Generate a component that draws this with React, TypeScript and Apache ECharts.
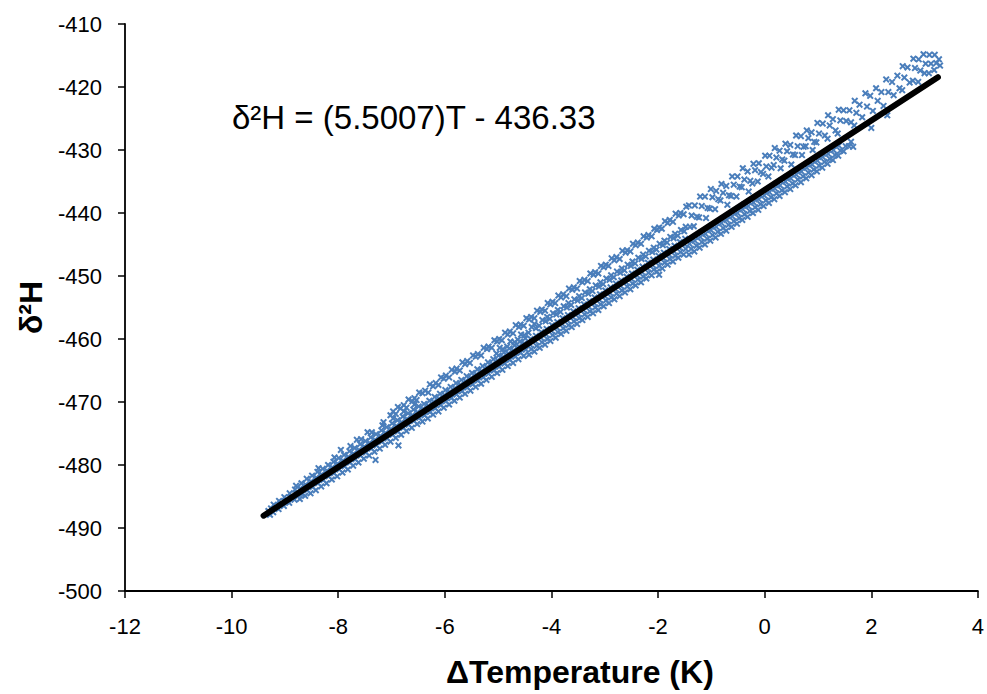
import React, { useEffect, useRef } from "react";
import * as echarts from "echarts";

// ΔTemperature (K), δ2H pairs
const mainBand: number[][] = [
  [-9.28,-487.9],[-9.31,-487.3],[-9.26,-486.9],
  [-9.22,-487.5],[-9.18,-486.8],[-9.21,-486.3],
  [-9.12,-487.0],[-9.08,-486.2],[-9.11,-485.7],
  [-9.02,-486.5],[-8.98,-485.7],[-9.01,-485.1],
  [-8.92,-486.0],[-8.88,-485.1],[-8.91,-484.5],
  [-8.82,-485.5],[-8.78,-484.6],[-8.81,-483.9],[-8.79,-483.3],
  [-8.72,-485.4],[-8.68,-484.6],[-8.71,-483.7],[-8.69,-482.9],
  [-8.62,-484.9],[-8.58,-484.0],[-8.61,-483.1],[-8.59,-482.2],
  [-8.52,-484.5],[-8.48,-483.5],[-8.51,-482.6],[-8.49,-481.7],
  [-8.42,-484.0],[-8.38,-482.9],[-8.41,-482.0],[-8.39,-481.1],[-8.37,-480.5],
  [-8.32,-483.4],[-8.28,-482.4],[-8.31,-481.5],[-8.29,-480.6],
  [-8.22,-482.9],[-8.18,-481.8],[-8.21,-480.9],[-8.19,-480.0],
  [-8.12,-482.3],[-8.08,-481.3],[-8.11,-480.4],[-8.09,-479.5],[-8.07,-478.8],
  [-8.02,-481.8],[-7.98,-480.7],[-8.01,-479.8],[-7.99,-478.9],[-7.95,-477.6],
  [-7.92,-481.2],[-7.88,-480.2],[-7.91,-479.3],[-7.89,-478.4],
  [-7.82,-480.7],[-7.78,-479.6],[-7.81,-478.7],[-7.79,-477.8],[-7.77,-477.0],
  [-7.72,-480.1],[-7.68,-479.1],[-7.71,-478.2],[-7.69,-477.3],[-7.65,-476.0],
  [-7.62,-479.6],[-7.58,-478.5],[-7.61,-477.6],[-7.59,-476.7],[-7.57,-475.9],
  [-7.52,-479.0],[-7.48,-478.0],[-7.51,-477.1],[-7.49,-476.2],[-7.45,-474.8],
  [-7.42,-478.5],[-7.38,-477.4],[-7.41,-476.5],[-7.39,-475.6],[-7.37,-474.8],
  [-7.32,-477.9],[-7.28,-476.9],[-7.31,-476.0],[-7.29,-475.1],[-7.30,-479.2],
  [-7.22,-477.4],[-7.18,-476.3],[-7.21,-475.4],[-7.19,-474.5],[-7.17,-473.7],[-7.15,-473.2],
  [-7.12,-476.8],[-7.08,-475.8],[-7.11,-474.9],[-7.09,-474.0],
  [-7.02,-476.3],[-6.98,-475.2],[-7.01,-474.3],[-6.99,-473.4],[-6.97,-472.6],
  [-6.92,-475.7],[-6.88,-474.7],[-6.91,-473.8],[-6.89,-472.9],[-6.87,-476.9],
  [-6.82,-475.2],[-6.78,-474.1],[-6.81,-473.2],[-6.79,-472.3],[-6.77,-471.5],
  [-6.72,-474.6],[-6.68,-473.6],[-6.71,-472.7],[-6.69,-471.8],
  [-6.62,-474.1],[-6.58,-473.0],[-6.61,-472.1],[-6.59,-471.2],[-6.57,-470.4],
  [-6.52,-473.5],[-6.48,-472.5],[-6.51,-471.6],[-6.49,-470.7],
  [-6.42,-473.1],[-6.38,-472.1],[-6.41,-471.1],[-6.39,-470.3],
  [-6.32,-472.6],[-6.28,-471.6],[-6.31,-470.6],[-6.29,-469.8],
  [-6.22,-472.0],[-6.18,-471.0],[-6.21,-470.0],[-6.19,-469.2],
  [-6.12,-471.5],[-6.08,-470.5],[-6.11,-469.5],[-6.09,-468.7],
  [-6.02,-470.9],[-5.98,-469.9],[-6.01,-468.9],[-5.99,-468.1],
  [-5.92,-470.4],[-5.88,-469.4],[-5.91,-468.4],[-5.89,-467.6],
  [-5.82,-469.8],[-5.78,-468.8],[-5.81,-467.8],[-5.79,-467.0],
  [-5.72,-469.3],[-5.68,-468.3],[-5.71,-467.3],[-5.69,-466.5],
  [-5.62,-468.7],[-5.58,-467.7],[-5.61,-466.7],[-5.59,-465.9],
  [-5.52,-468.2],[-5.48,-467.2],[-5.51,-466.2],[-5.49,-465.4],
  [-5.42,-467.6],[-5.38,-466.6],[-5.41,-465.6],[-5.39,-464.8],
  [-5.32,-467.1],[-5.28,-466.1],[-5.31,-465.1],[-5.29,-464.3],
  [-5.22,-466.5],[-5.18,-465.5],[-5.21,-464.5],[-5.19,-463.7],
  [-5.12,-466.0],[-5.08,-465.0],[-5.11,-464.0],[-5.09,-463.2],
  [-5.02,-465.4],[-4.98,-464.4],[-5.01,-463.4],[-4.99,-462.6],
  [-4.92,-464.9],[-4.88,-463.9],[-4.91,-462.9],[-4.89,-462.1],
  [-4.82,-464.3],[-4.78,-463.3],[-4.81,-462.3],[-4.79,-461.5],
  [-4.72,-463.8],[-4.68,-462.8],[-4.71,-461.8],[-4.69,-461.0],
  [-4.62,-463.2],[-4.58,-462.2],[-4.61,-461.2],[-4.59,-460.4],
  [-4.52,-462.7],[-4.48,-461.7],[-4.51,-460.7],[-4.49,-459.9],
  [-4.42,-462.5],[-4.38,-461.6],[-4.41,-460.8],[-4.39,-460.0],
  [-4.32,-462.0],[-4.28,-461.1],[-4.31,-460.3],[-4.29,-459.5],
  [-4.22,-461.4],[-4.18,-460.5],[-4.21,-459.7],[-4.19,-458.9],
  [-4.12,-460.9],[-4.08,-460.0],[-4.11,-459.2],[-4.09,-458.4],
  [-4.02,-460.3],[-3.98,-459.4],[-4.01,-458.6],[-3.99,-457.8],
  [-3.92,-459.8],[-3.88,-458.9],[-3.91,-458.1],[-3.89,-457.3],
  [-3.82,-459.2],[-3.78,-458.3],[-3.81,-457.5],[-3.79,-456.7],
  [-3.72,-458.7],[-3.68,-457.8],[-3.71,-457.0],[-3.69,-456.2],
  [-3.62,-458.1],[-3.58,-457.2],[-3.61,-456.4],[-3.59,-455.6],
  [-3.52,-457.6],[-3.48,-456.7],[-3.51,-455.9],[-3.49,-455.1],
  [-3.42,-457.0],[-3.38,-456.1],[-3.41,-455.3],[-3.39,-454.5],
  [-3.32,-456.5],[-3.28,-455.6],[-3.31,-454.8],[-3.29,-454.0],
  [-3.22,-455.9],[-3.18,-455.0],[-3.21,-454.2],[-3.19,-453.4],
  [-3.12,-455.4],[-3.08,-454.5],[-3.11,-453.7],[-3.09,-452.9],
  [-3.02,-454.8],[-2.98,-453.9],[-3.01,-453.1],[-2.99,-452.3],
  [-2.92,-454.3],[-2.88,-453.4],[-2.91,-452.6],[-2.89,-451.8],
  [-2.82,-453.7],[-2.78,-452.8],[-2.81,-452.0],[-2.79,-451.2],
  [-2.72,-453.2],[-2.68,-452.3],[-2.71,-451.5],[-2.69,-450.7],
  [-2.62,-452.6],[-2.58,-451.7],[-2.61,-450.9],[-2.59,-450.1],
  [-2.52,-452.1],[-2.48,-451.2],[-2.51,-450.4],[-2.49,-449.6],
  [-2.42,-451.5],[-2.38,-450.6],[-2.41,-449.8],[-2.39,-449.0],
  [-2.32,-451.0],[-2.28,-450.1],[-2.31,-449.3],[-2.29,-448.5],
  [-2.22,-450.4],[-2.18,-449.5],[-2.21,-448.7],[-2.19,-447.9],
  [-2.12,-449.9],[-2.08,-449.0],[-2.11,-448.2],[-2.09,-447.4],
  [-2.02,-449.3],[-1.98,-448.4],[-2.01,-447.6],[-1.99,-446.8],[-1.98,-449.8],
  [-1.92,-448.8],[-1.88,-447.9],[-1.91,-447.1],[-1.89,-446.3],
  [-1.82,-448.2],[-1.78,-447.3],[-1.81,-446.5],[-1.79,-445.7],
  [-1.72,-447.7],[-1.68,-446.8],[-1.71,-446.0],[-1.69,-445.2],
  [-1.62,-447.1],[-1.58,-446.2],[-1.61,-445.4],[-1.59,-444.6],
  [-1.52,-446.6],[-1.48,-445.7],[-1.51,-444.9],[-1.49,-444.1],
  [-1.42,-446.6],[-1.38,-445.7],[-1.41,-444.9],[-1.39,-444.2],
  [-1.32,-446.1],[-1.28,-445.2],[-1.31,-444.4],[-1.29,-443.7],
  [-1.22,-445.5],[-1.18,-444.6],[-1.21,-443.8],[-1.19,-443.1],
  [-1.12,-445.0],[-1.08,-444.1],[-1.11,-443.3],[-1.09,-442.6],
  [-1.02,-444.4],[-0.98,-443.5],[-1.01,-442.7],[-0.99,-442.0],
  [-0.92,-443.9],[-0.88,-443.0],[-0.91,-442.2],[-0.89,-441.5],
  [-0.82,-443.3],[-0.78,-442.4],[-0.81,-441.6],[-0.79,-440.9],
  [-0.72,-442.8],[-0.68,-441.9],[-0.71,-441.1],[-0.69,-440.4],
  [-0.62,-442.2],[-0.58,-441.3],[-0.61,-440.5],[-0.59,-439.8],
  [-0.52,-441.7],[-0.48,-440.8],[-0.51,-440.0],[-0.49,-439.3],
  [-0.42,-441.1],[-0.38,-440.2],[-0.41,-439.4],[-0.39,-438.7],
  [-0.32,-440.6],[-0.28,-439.7],[-0.31,-438.9],[-0.29,-438.2],
  [-0.22,-440.0],[-0.18,-439.1],[-0.21,-438.3],[-0.19,-437.6],
  [-0.12,-439.5],[-0.08,-438.6],[-0.11,-437.8],[-0.09,-437.1],
  [-0.02,-438.9],[0.02,-438.0],[-0.01,-437.2],[0.01,-436.5],
  [0.08,-438.4],[0.12,-437.5],[0.09,-436.7],[0.11,-436.0],
  [0.18,-437.8],[0.22,-436.9],[0.19,-436.1],[0.21,-435.4],
  [0.28,-437.3],[0.32,-436.4],[0.29,-435.6],[0.31,-434.9],
  [0.38,-436.7],[0.42,-435.8],[0.39,-435.0],[0.41,-434.3],
  [0.48,-436.2],[0.52,-435.3],[0.49,-434.5],[0.51,-433.8],
  [0.58,-435.6],[0.62,-434.7],[0.59,-433.9],[0.61,-433.2],
  [0.68,-435.1],[0.72,-434.2],[0.69,-433.4],[0.71,-432.7],
  [0.78,-434.5],[0.82,-433.6],[0.79,-432.8],[0.81,-432.1],
  [0.88,-434.0],[0.92,-433.1],[0.89,-432.3],[0.91,-431.6],
  [0.98,-433.4],[1.02,-432.5],[0.99,-431.7],[1.01,-431.0],
  [1.08,-432.8],[1.12,-431.9],[1.09,-431.1],
  [1.18,-432.2],[1.22,-431.4],[1.19,-430.6],
  [1.28,-431.6],[1.32,-430.8],[1.29,-430.0],
  [1.38,-430.9],[1.42,-430.1],[1.39,-429.3],
  [1.48,-430.2],[1.52,-429.4],
  [1.58,-429.4],[1.62,-428.7],[1.66,-429.5],
];

const middleBand: number[][] = [
  [-5.03,-462.3],[-4.97,-461.4],[-4.91,-461.6],
  [-4.83,-461.2],[-4.77,-460.4],[-4.69,-460.5],
  [-4.63,-460.1],[-4.57,-459.3],[-4.51,-459.4],
  [-4.43,-459.0],[-4.37,-458.1],[-4.29,-458.3],[-4.32,-457.6],
  [-4.23,-457.9],[-4.17,-457.0],[-4.11,-457.2],[-4.08,-456.5],
  [-4.03,-456.8],[-3.97,-455.9],[-3.91,-456.1],[-3.88,-455.4],
  [-3.83,-455.7],[-3.77,-454.8],[-3.71,-455.0],[-3.68,-454.3],
  [-3.63,-454.6],[-3.57,-453.7],[-3.51,-453.9],[-3.48,-453.2],
  [-3.43,-453.5],[-3.37,-452.6],[-3.31,-452.8],[-3.28,-452.1],
  [-3.23,-452.4],[-3.17,-451.5],[-3.11,-451.7],[-3.08,-451.0],
  [-3.03,-451.3],[-2.97,-450.4],[-2.91,-450.6],[-2.88,-449.9],
  [-2.83,-450.2],[-2.77,-449.3],[-2.71,-449.5],[-2.68,-448.8],
  [-2.63,-449.1],[-2.57,-448.2],[-2.51,-448.4],[-2.48,-447.7],
  [-2.43,-448.0],[-2.37,-447.1],[-2.31,-447.3],[-2.28,-446.6],
  [-2.23,-446.9],[-2.17,-446.0],[-2.11,-446.2],[-2.08,-445.5],
  [-2.03,-445.8],[-1.97,-444.9],[-1.91,-445.1],[-1.88,-444.4],
  [-1.83,-444.7],[-1.77,-443.8],[-1.71,-444.0],[-1.68,-443.3],
  [-1.63,-443.6],[-1.57,-442.7],[-1.51,-442.9],[-1.48,-442.2],
];

const upperBand: number[][] = [
  [-7.02,-472.1],[-6.97,-471.5],[-6.92,-471.9],[-6.88,-470.8],
  [-6.83,-471.0],[-6.77,-470.5],[-6.72,-470.9],[-6.68,-469.6],
  [-6.61,-469.9],[-6.57,-469.4],[-6.53,-469.7],[-6.48,-468.5],
  [-6.42,-468.6],[-6.37,-468.2],[-6.31,-468.5],[-6.28,-467.2],
  [-6.22,-467.5],[-6.17,-467.0],[-6.12,-467.3],[-6.07,-466.1],
  [-6.02,-466.3],[-5.98,-465.8],[-5.92,-466.1],[-5.87,-464.9],
  [-5.81,-465.2],[-5.78,-464.7],[-5.72,-465.0],[-5.67,-463.7],
  [-5.62,-464.0],[-5.58,-463.5],[-5.53,-463.8],[-5.47,-462.6],
  [-5.42,-462.8],[-5.38,-462.4],[-5.32,-462.6],[-5.27,-461.4],
  [-5.21,-461.6],[-5.18,-461.2],[-5.12,-461.4],[-5.07,-460.2],
  [-5.02,-460.4],[-4.98,-460.0],[-4.93,-460.2],[-4.87,-459.0],
  [-4.82,-459.3],[-4.78,-458.8],[-4.72,-459.1],[-4.67,-457.8],
  [-4.61,-458.1],[-4.58,-457.7],[-4.52,-457.9],[-4.47,-456.7],
  [-4.42,-456.9],[-4.38,-456.5],[-4.32,-456.7],[-4.27,-455.5],
  [-4.21,-455.7],[-4.18,-455.3],[-4.12,-455.5],[-4.07,-454.3],
  [-4.02,-454.5],[-3.98,-454.1],[-3.93,-454.3],[-3.87,-453.1],
  [-3.82,-453.4],[-3.78,-452.9],[-3.72,-453.2],[-3.67,-452.0],
  [-3.61,-452.2],[-3.58,-451.8],[-3.52,-452.0],[-3.47,-450.8],
  [-3.42,-451.0],[-3.38,-450.6],[-3.32,-450.8],[-3.27,-449.6],
  [-3.21,-449.8],[-3.18,-449.4],[-3.12,-449.6],[-3.07,-448.4],
  [-3.02,-448.6],[-2.98,-448.2],[-2.93,-448.4],[-2.87,-447.2],
  [-2.82,-447.5],[-2.78,-447.0],[-2.72,-447.3],[-2.67,-446.0],
  [-2.61,-446.3],[-2.58,-445.9],[-2.52,-446.1],[-2.47,-444.9],
  [-2.42,-445.1],[-2.38,-444.7],[-2.32,-444.9],[-2.27,-443.7],
  [-2.21,-443.9],[-2.18,-443.5],[-2.12,-443.7],[-2.07,-442.5],
  [-2.02,-442.7],[-1.98,-442.3],[-1.93,-442.5],[-1.87,-441.3],
  [-1.82,-441.6],[-1.78,-441.1],[-1.72,-441.4],[-1.67,-440.1],
  [-1.61,-440.4],[-1.58,-440.0],[-1.52,-440.2],[-1.47,-439.0],
];

const upperCloud: number[][] = [
  [-1.42,-438.8],[-1.37,-440.4],[-1.40,-442.2],
  [-1.31,-438.8],[-1.27,-440.6],[-1.33,-442.1],
  [-1.21,-437.4],[-1.18,-438.9],[-1.23,-440.7],
  [-1.12,-437.4],[-1.07,-439.2],[-1.10,-440.8],
  [-1.01,-436.2],[-0.98,-437.5],[-1.03,-439.3],
  [-0.91,-436.5],[-0.87,-437.8],[-0.93,-439.4],
  [-0.81,-435.4],[-0.78,-436.8],[-0.83,-438.0],
  [-0.72,-435.7],[-0.67,-437.2],[-0.70,-438.7],
  [-0.61,-434.2],[-0.58,-435.5],[-0.63,-437.3],
  [-0.51,-434.2],[-0.47,-435.8],[-0.53,-437.4],
  [-0.41,-432.9],[-0.38,-434.7],[-0.43,-435.9],
  [-0.32,-433.4],[-0.27,-434.9],[-0.30,-436.6],
  [-0.21,-432.2],[-0.18,-433.2],[-0.23,-435.3],
  [-0.11,-432.1],[-0.07,-433.5],[-0.13,-435.0],
  [0.01,-430.9],[0.03,-432.6],[-0.03,-433.8],
  [0.09,-430.9],[0.13,-432.8],[0.07,-434.2],
  [0.19,-429.7],[0.22,-431.2],[0.17,-432.4],
  [0.28,-430.1],[0.33,-431.5],[0.30,-432.9],
  [0.39,-429.0],[0.42,-430.2],[0.37,-431.7],
  [0.48,-429.2],[0.53,-430.7],[0.50,-432.3],
  [0.59,-427.7],[0.62,-429.4],[0.57,-430.8],
  [0.68,-427.8],[0.73,-429.5],[0.70,-430.8],
  [0.79,-426.9],[0.82,-428.1],[0.77,-429.4],
  [0.88,-427.2],[0.93,-428.7],[0.90,-430.0],
  [0.99,-425.7],[1.02,-427.4],[0.97,-428.8],
  [1.09,-425.8],[1.13,-427.7],
  [1.19,-424.5],[1.22,-426.1],[1.18,-428.2],
  [1.28,-425.1],[1.33,-426.9],
  [1.39,-423.6],[1.42,-425.3],[1.37,-427.4],
  [1.48,-423.7],[1.53,-425.4],
  [1.59,-423.7],[1.62,-425.6],
  [1.69,-422.2],[1.72,-424.1],[1.68,-426.1],
  [1.78,-422.8],[1.83,-424.8],
  [1.89,-421.0],[1.92,-423.1],
  [1.98,-421.4],[2.03,-423.8],[2.00,-426.5],
  [2.09,-420.2],[2.12,-422.2],
  [2.19,-420.8],[2.23,-423.0],
  [2.28,-418.8],[2.32,-420.8],[2.30,-424.5],
  [2.39,-419.2],[2.42,-421.3],
  [2.49,-418.2],[2.53,-420.2],
  [2.59,-416.7],[2.62,-418.5],[2.58,-420.5],
  [2.68,-416.9],[2.72,-419.3],
  [2.79,-415.5],[2.82,-417.0],[2.78,-419.0],
  [2.89,-415.6],[2.92,-417.4],[2.88,-419.2],
  [2.98,-414.8],[3.02,-416.3],[3.00,-417.8],
  [3.09,-414.9],[3.12,-416.3],[3.08,-417.8],
  [3.19,-414.9],[3.22,-416.2],[3.18,-417.3],
  [3.27,-415.6],[3.29,-416.6],
];

// linear fit drawn across the data range
const trendLine: number[][] = [[-9.4, -488.04], [3.25, -418.45]];
const equationText = "δ²H = (5.5007)T - 436.33";
const xAxisTitle = "ΔTemperature (K)";
const yAxisTitle = "δ²H";

const FONT = '"Liberation Sans", Arial, sans-serif';
const crossSymbol =
  "path://M0,2L2,0L5,3L8,0L10,2L7,5L10,8L8,10L5,7L2,10L0,8L3,5Z";

export default function App() {
  const ref = useRef<HTMLDivElement>(null);

  useEffect(() => {
    if (!ref.current) return;
    const chart = echarts.init(ref.current, null, { renderer: "svg" });
    const scatterStyle = {
      type: "scatter" as const,
      symbol: crossSymbol,
      symbolSize: 7,
      itemStyle: { color: "#4A7EBB", opacity: 1 },
      silent: true,
      z: 2,
    };
    chart.setOption({
      animation: false,
      backgroundColor: "#ffffff",
      grid: { left: 125, right: 5, top: 24, bottom: 103, containLabel: false },
      xAxis: {
        type: "value",
        min: -12,
        max: 4,
        interval: 2,
        axisLine: { show: true, onZero: false, lineStyle: { color: "#000", width: 1.8 } },
        axisTick: { show: true, length: 7, lineStyle: { color: "#000", width: 1.5 } },
        splitLine: { show: false },
        axisLabel: { color: "#000", fontSize: 22, fontFamily: FONT, margin: 24 },
      },
      yAxis: {
        type: "value",
        min: -500,
        max: -410,
        interval: 10,
        axisLine: { show: true, onZero: false, lineStyle: { color: "#000", width: 1.8 } },
        axisTick: { show: true, length: 7, lineStyle: { color: "#000", width: 1.5 } },
        splitLine: { show: false },
        axisLabel: { color: "#000", fontSize: 22, fontFamily: FONT, margin: 23 },
        name: yAxisTitle,
        nameLocation: "middle",
        nameGap: 68,
        nameRotate: 90,
        nameTextStyle: { color: "#000", fontSize: 32, fontWeight: "bold", fontFamily: FONT },
      },
      graphic: [
        {
          type: "text",
          left: 232,
          top: 101,
          style: { text: equationText, fontSize: 33, fontFamily: FONT, fill: "#000" },
        },
        {
          type: "text",
          left: 446,
          top: 656,
          style: { text: xAxisTitle, fontSize: 32, fontWeight: "bold", fontFamily: FONT, fill: "#000" },
        },
      ],
      series: [
        { ...scatterStyle, name: "main", data: mainBand },
        { ...scatterStyle, name: "middle", data: middleBand },
        { ...scatterStyle, name: "upper", data: upperBand },
        { ...scatterStyle, name: "cloud", data: upperCloud },
        {
          type: "line",
          name: "fit",
          data: trendLine,
          symbol: "none",
          silent: true,
          z: 5,
          lineStyle: { color: "#000", width: 6, cap: "round" },
        },
      ],
    });
    return () => chart.dispose();
  }, []);

  return (
    <div
      ref={ref}
      style={{ position: "fixed", left: 0, top: 0, width: 987, height: 694, background: "#fff" }}
    />
  );
}
